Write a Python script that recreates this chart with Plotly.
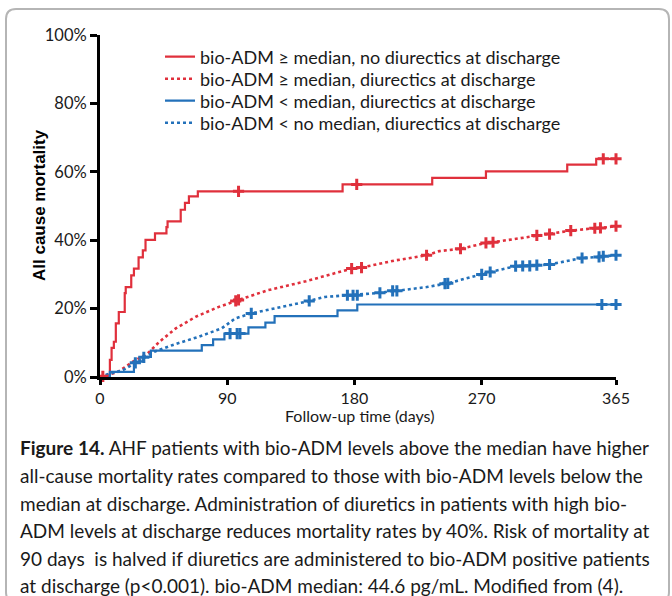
import numpy as np
import plotly.graph_objects as go

# ---------------- data ----------------
legend_names = [
    "bio-ADM ≥ median, no diurectics at discharge",
    "bio-ADM ≥ median, diurectics at discharge",
    "bio-ADM < median, diurectics at discharge",
    "bio-ADM < no median, diurectics at discharge",
]

# red solid (step curve)
red_solid_days = [0, 7, 8.2, 9.8, 11.2, 13.3, 17.5, 18.2, 22.1, 24, 27.3, 30.3, 32.2, 38.9, 47, 47.8,
                  57.1, 60.1, 62.9, 69.2, 171.6, 235, 273, 330.5, 351, 365]
red_solid_pct = [0, 5, 8.5, 10.3, 15.7, 19, 24.5, 26.3, 29.7, 31.7, 35, 37, 40.1, 42, 43.8, 45.5,
                 48.9, 50.9, 52.8, 54.3, 56.3, 58.2, 60.1, 62.1, 63.8, 63.8]
red_solid_censor = [98, 181.6, 356, 365]

# red dotted
red_dot_days = [0, 5, 12.8, 23.3, 33.8, 42, 53.6, 67.6, 84, 97, 119, 145.7, 178, 185, 209, 231, 240,
                255, 273, 278, 309, 318, 333, 350, 354, 365]
red_dot_pct = [0, 0.5, 1.5, 4.5, 6.9, 10.3, 14.2, 17.6, 20.5, 22.4, 25.4, 28, 31.7, 32, 34.1, 35.6, 36.8,
               37.5, 39.2, 39.4, 41.4, 41.8, 42.8, 43.5, 43.6, 44.1]
red_dot_censor = [2, 96, 98, 178, 185, 231, 255, 273, 278, 309, 318, 333, 350, 354, 365]

# blue solid (step curve)
blue_solid_days = [0, 7, 24, 30.3, 36, 72, 80, 88, 105, 117, 123.5, 168, 182, 365]
blue_solid_pct = [0, 1.5, 4.5, 5.9, 7.7, 9.3, 11, 12.7, 14.5, 15.9, 17.8, 19.5, 21.2, 21.2]
blue_solid_censor = [92, 97, 99, 355, 365]

# blue dotted
blue_dot_days = [0, 7, 16.3, 24.5, 31.5, 38.5, 51, 70, 86, 95.6, 107, 123.5, 145.7, 159, 175, 182,
                 198, 207, 210, 231, 244, 246, 270, 276, 294, 304, 309, 318, 341, 353, 356, 365]
blue_dot_pct = [0, 1, 2, 4, 5.9, 7.4, 9.3, 11.8, 14.2, 17.1, 18.6, 20, 22, 23.4, 23.9, 23.9,
                24.6, 25.2, 25.2, 26.3, 27.3, 27.4, 30, 30.7, 32.4, 32.5, 32.7, 32.9, 34.8, 35.1, 35.3, 35.6]
blue_dot_censor = [25, 31, 107, 148, 175, 179, 182, 198, 207, 210, 244, 246, 270, 276, 294, 299,
                   304, 309, 318, 341, 353, 356, 365]

x_ticks = [0, 90, 180, 270, 365]
y_ticks = [0, 20, 40, 60, 80, 100]

caption_lines = [
    "<b>Figure 14.</b> AHF patients with bio-ADM levels above the median have higher",
    "all-cause mortality rates compared to those with bio-ADM levels below the",
    "median at discharge. Administration of diuretics in patients with high bio-",
    "ADM levels at discharge reduces mortality rates by 40%. Risk of mortality at",
    "90 days  is halved if diuretics are administered to bio-ADM positive patients",
    "at discharge (p<0.001). bio-ADM median: 44.6 pg/mL. Modified from (4).",
]

RED = "#E0303C"
BLUE = "#2371BA"
FONT = "Lato"

# ---------------- figure ----------------
W, H = 672, 596
L, R, T, B = 100, 56, 35, 219
pw, ph = W - L - R, H - T - B


def px2paper(px, py):
    return (px - L) / pw, (H - B - py) / ph


def step_lookup(days, pct, t):
    idx = np.searchsorted(np.array(days), t, side="right") - 1
    return [pct[i] for i in idx]


fig = go.Figure()

series = [
    (red_solid_days, red_solid_pct, red_solid_censor, RED, "solid", "hv", 2.2),
    (red_dot_days, red_dot_pct, red_dot_censor, RED, "dot", "linear", 2.6),
    (blue_solid_days, blue_solid_pct, blue_solid_censor, BLUE, "solid", "hv", 2.2),
    (blue_dot_days, blue_dot_pct, blue_dot_censor, BLUE, "dot", "linear", 2.6),
]

legend_ids = ["legend", "legend2", "legend3", "legend4"]
for name, lid, (d, p, c, col, dash, shape, lw) in zip(legend_names, legend_ids, series):
    fig.add_trace(go.Scatter(x=d, y=p, mode="lines", name=name, legend=lid,
                             line=dict(color=col, dash=dash, shape=shape, width=lw),
                             cliponaxis=False))
for (d, p, c, col, dash, shape, lw) in series:
    if shape == "hv":
        cy = step_lookup(d, p, c)
    else:
        cy = list(np.interp(c, d, p))
    fig.add_trace(go.Scatter(x=c, y=cy, mode="markers", showlegend=False, hoverinfo="skip",
                             marker=dict(symbol="cross-thin", size=8, line=dict(color=col, width=3)),
                             cliponaxis=False))

# rounded border box
x0, y0, x1, y1, r = 6, 9, 669, 602, 10
def P(px, py):
    a, b = px2paper(px, py)
    return f"{a:.5f},{b:.5f}"
path = (f"M{P(x0 + r, y0)} L{P(x1 - r, y0)} Q{P(x1, y0)} {P(x1, y0 + r)} "
        f"L{P(x1, y1 - r)} Q{P(x1, y1)} {P(x1 - r, y1)} L{P(x0 + r, y1)} "
        f"Q{P(x0, y1)} {P(x0, y1 - r)} L{P(x0, y0 + r)} Q{P(x0, y0)} {P(x0 + r, y0)} Z")
fig.add_shape(type="path", path=path, xref="paper", yref="paper",
              line=dict(color="#B5B5B5", width=2), layer="below")

cap_y = [447, 475, 503, 530, 558, 585]
for txt, cy in zip(caption_lines, cap_y):
    ax, ay = px2paper(18, cy)
    fig.add_annotation(text=txt, x=ax, y=ay, xref="paper", yref="paper", xanchor="left",
                       yanchor="middle", showarrow=False,
                       font=dict(family=FONT, size=19, color="#1a1a1a"))

# axis titles as annotations
tx, ty = px2paper(359, 416)
fig.add_annotation(text="Follow-up time (days)", x=tx, y=ty, xref="paper", yref="paper",
                   xanchor="center", yanchor="middle",
                   showarrow=False, font=dict(family=FONT, size=16, color="#1a1a1a"))
tx, ty = px2paper(39, 205)
fig.add_annotation(text="<b>All cause mortality</b>", x=tx, y=ty, xref="paper", yref="paper",
                   xanchor="center", yanchor="middle",
                   showarrow=False, textangle=-90,
                   font=dict(family="Liberation Sans", size=17, color="#000"))

leg_common = dict(xanchor="left", yanchor="middle", bgcolor="rgba(0,0,0,0)",
                  font=dict(family=FONT, size=18, color="#1a1a1a"), itemwidth=30)
leg_layout = {}
for i, lid in enumerate(legend_ids):
    leg_layout[lid] = dict(x=(160 - L) / pw, y=px2paper(0, 57 + 22 * i)[1], **leg_common)

fig.update_layout(
    width=W, height=H, autosize=False,
    margin=dict(l=L, r=R, t=T, b=B),
    paper_bgcolor="white", plot_bgcolor="white",
    showlegend=True,
    **leg_layout,
    xaxis=dict(range=[0, 365], tickvals=x_ticks, ticktext=[str(v) for v in x_ticks],
               showline=True, linecolor="black", linewidth=3, ticks="outside", ticklen=5,
               tickwidth=3, tickcolor="black", showgrid=False, zeroline=False,
               tickfont=dict(family=FONT, size=16, color="#1a1a1a")),
    yaxis=dict(range=[0, 100], tickvals=y_ticks, ticktext=[f"{v}%" for v in y_ticks],
               showline=True, linecolor="black", linewidth=3, ticks="outside", ticklen=7,
               tickwidth=3, tickcolor="black", showgrid=False, zeroline=False,
               tickfont=dict(family=FONT, size=16.5, color="#1a1a1a")),
)

fig.write_html("out.html")
